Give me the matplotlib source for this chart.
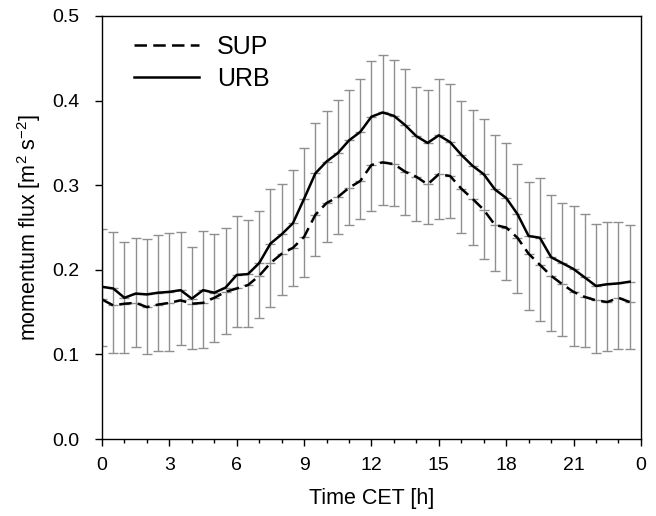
import numpy as np
import matplotlib
matplotlib.use('Agg')
import matplotlib.pyplot as plt
from matplotlib.ticker import MultipleLocator

plt.rcParams['font.family'] = ['Liberation Sans', 'DejaVu Sans']
plt.rcParams['mathtext.default'] = 'regular'

# half-hourly time steps
hours = np.arange(48) * 0.5

urb = [0.180, 0.178, 0.167, 0.172, 0.171, 0.173, 0.174, 0.176, 0.166, 0.176, 0.173, 0.179,
       0.194, 0.195, 0.208, 0.231, 0.242, 0.255, 0.284, 0.314, 0.328, 0.338, 0.353, 0.363,
       0.381, 0.386, 0.382, 0.371, 0.358, 0.350, 0.359, 0.351, 0.336, 0.323, 0.313, 0.295,
       0.285, 0.266, 0.240, 0.238, 0.215, 0.208, 0.201, 0.191, 0.181, 0.183, 0.184, 0.186]
urb_top = [0.248, 0.245, 0.233, 0.238, 0.237, 0.241, 0.244, 0.245, 0.227, 0.246, 0.242, 0.250,
           0.264, 0.259, 0.270, 0.295, 0.301, 0.318, 0.344, 0.374, 0.388, 0.401, 0.413, 0.426,
           0.447, 0.454, 0.448, 0.437, 0.416, 0.413, 0.425, 0.420, 0.399, 0.389, 0.378, 0.359,
           0.350, 0.325, 0.304, 0.309, 0.288, 0.279, 0.276, 0.266, 0.254, 0.256, 0.256, 0.253]

sup = [0.165, 0.158, 0.160, 0.161, 0.156, 0.159, 0.161, 0.164, 0.160, 0.161, 0.167, 0.174,
       0.178, 0.182, 0.193, 0.208, 0.219, 0.226, 0.239, 0.265, 0.279, 0.286, 0.297, 0.305,
       0.324, 0.327, 0.325, 0.316, 0.310, 0.301, 0.313, 0.311, 0.296, 0.284, 0.271, 0.253,
       0.250, 0.238, 0.219, 0.206, 0.193, 0.183, 0.174, 0.168, 0.164, 0.162, 0.167, 0.162]
sup_bot = [0.110, 0.102, 0.102, 0.109, 0.101, 0.104, 0.104, 0.111, 0.106, 0.108, 0.115, 0.124,
           0.132, 0.132, 0.143, 0.156, 0.170, 0.181, 0.191, 0.216, 0.233, 0.242, 0.253, 0.260,
           0.269, 0.277, 0.275, 0.265, 0.258, 0.254, 0.260, 0.261, 0.244, 0.229, 0.213, 0.199,
           0.188, 0.173, 0.153, 0.139, 0.128, 0.122, 0.110, 0.109, 0.102, 0.104, 0.106, 0.106]

xticks = [0, 3, 6, 9, 12, 15, 18, 21, 24]
xticklabels = ['0', '3', '6', '9', '12', '15', '18', '21', '0']

urb = np.array(urb)
sup = np.array(sup)
urb_err = np.array(urb_top) - urb
sup_err = sup - np.array(sup_bot)

fig = plt.figure(figsize=(6.56, 5.16), dpi=100)
ax = fig.add_axes([0.1555, 0.149, 0.8215, 0.82])

ecol = '#8f8f8f'
# upper bars on URB, lower bars on SUP
ax.errorbar(hours, urb, yerr=[np.zeros(48), urb_err], fmt='none', ecolor=ecol,
            elinewidth=1.0, capsize=3.3, capthick=1.0, zorder=1)
ax.errorbar(hours, sup, yerr=[sup_err, np.zeros(48)], fmt='none', ecolor=ecol,
            elinewidth=1.0, capsize=3.3, capthick=1.0, zorder=1)
ax.vlines(hours, sup, urb, color=ecol, linewidth=1.0, zorder=1)

ax.plot(hours, sup, color='black', linewidth=1.8, dashes=(5, 2.5), label='SUP', zorder=3)
ax.plot(hours, urb, color='black', linewidth=1.8, label='URB', zorder=3)

ax.set_xlim(0, 24)
ax.set_ylim(0, 0.5)
ax.set_xticks(xticks)
ax.set_xticklabels(xticklabels)
ax.xaxis.set_minor_locator(MultipleLocator(1))
ax.set_yticks([0, 0.1, 0.2, 0.3, 0.4, 0.5])
ax.set_yticklabels(['0.0', '0.1', '0.2', '0.3', '0.4', '0.5'])
ax.tick_params(which='major', direction='out', length=5, width=1, labelsize=14)
ax.tick_params(axis='x', which='major', pad=8)
ax.tick_params(axis='y', which='major', pad=11)
ax.tick_params(which='minor', direction='out', length=3, width=1)
for s in ax.spines.values():
    s.set_linewidth(1.0)

ax.set_xlabel('Time CET [h]', fontsize=15.5, labelpad=10)
ax.set_ylabel('momentum flux [m$^2$ s$^{-2}$]', fontsize=15.5, labelpad=7)

ax.legend(loc='upper left', bbox_to_anchor=(0.06, 0.955), frameon=False, fontsize=18,
          handlelength=2.6, handletextpad=0.7, labelspacing=0.3, borderpad=0, borderaxespad=0)

fig.savefig('out.png', dpi=100)
